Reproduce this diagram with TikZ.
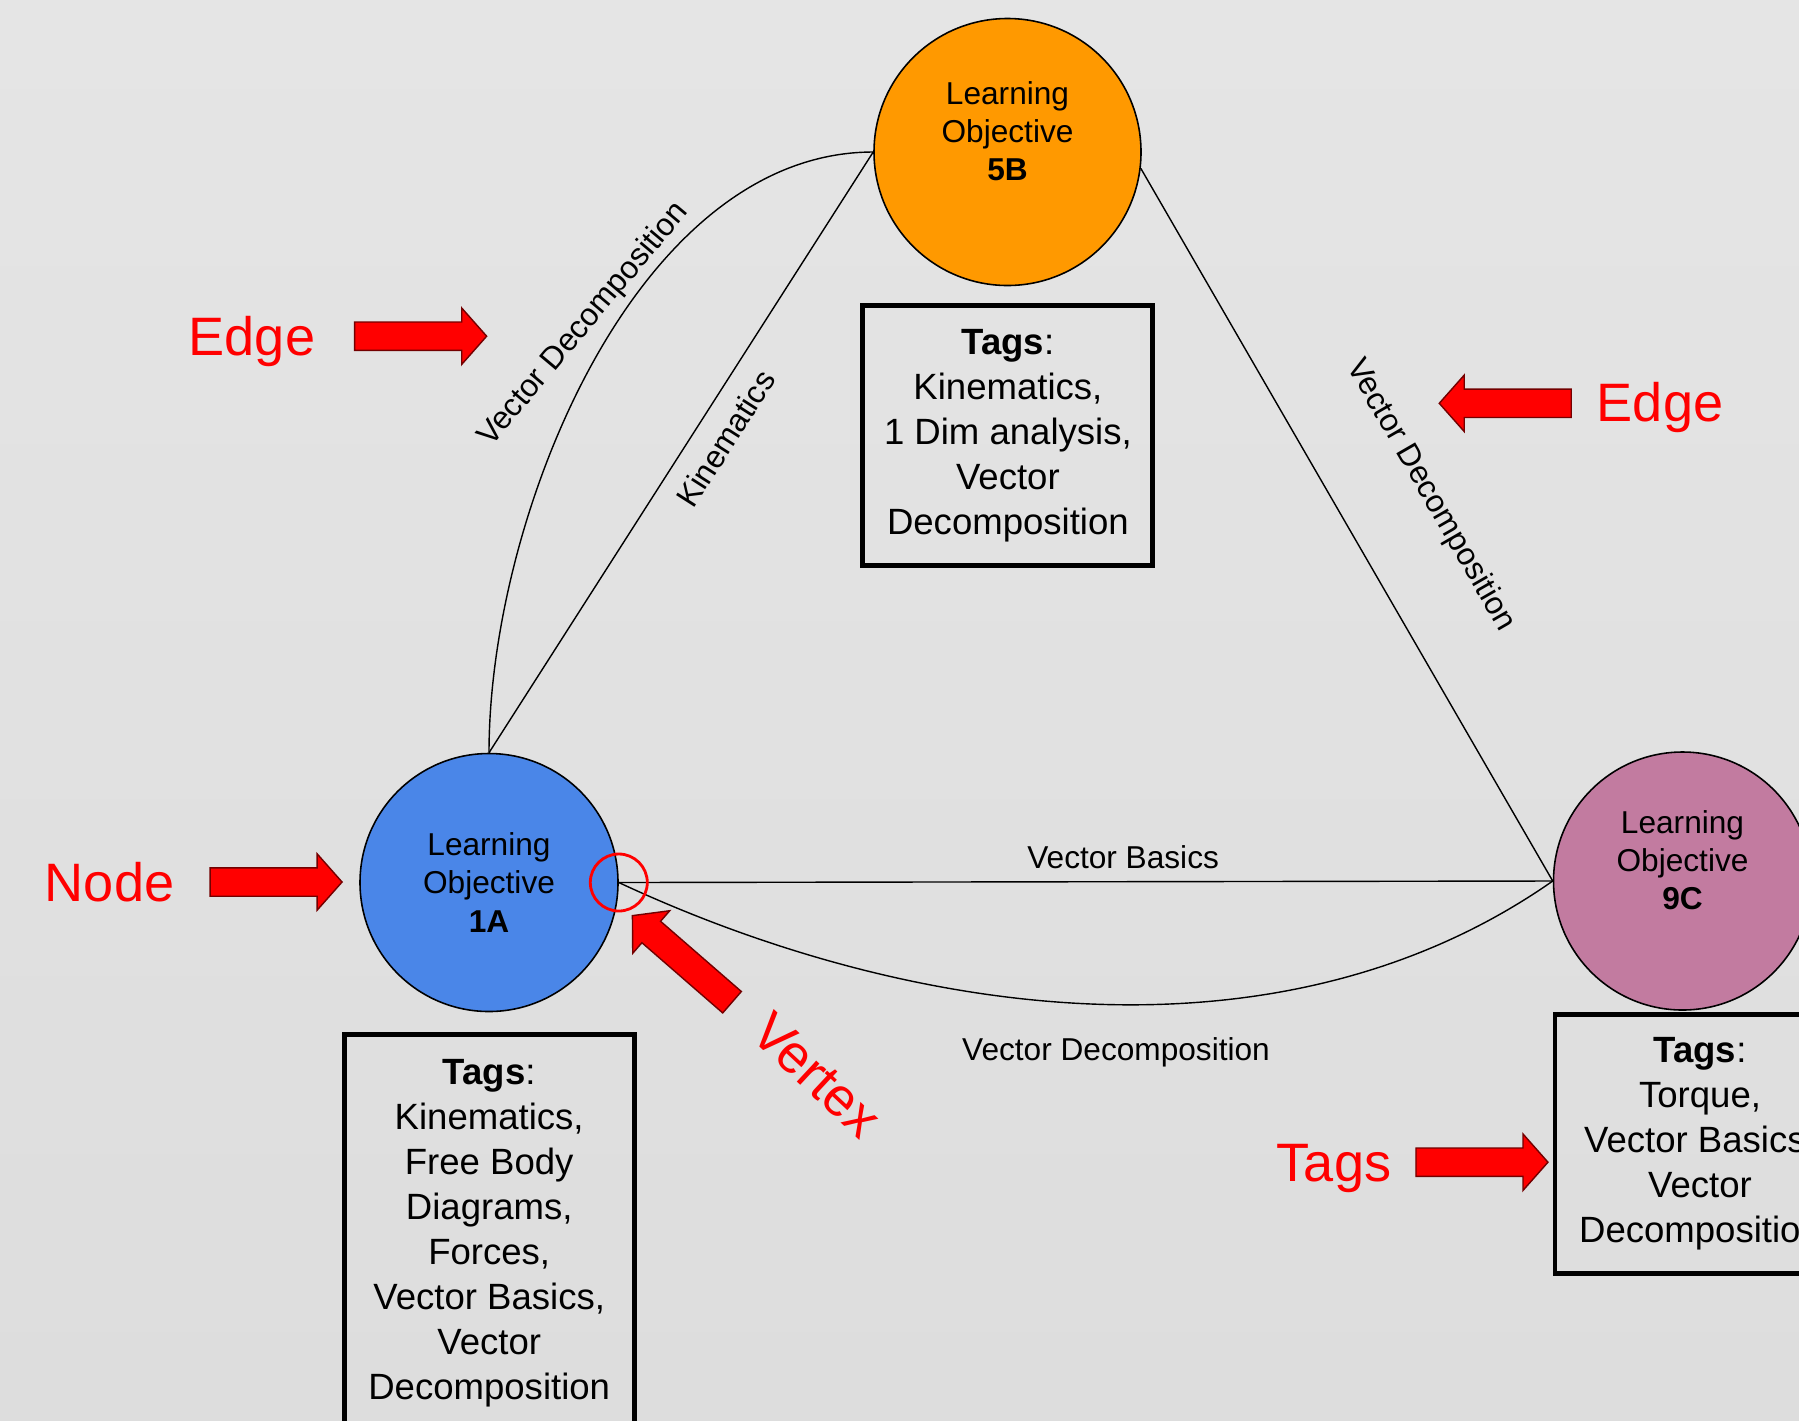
\documentclass[tikz,border=0pt]{standalone}
\usepackage{fontspec}
\setmainfont{Liberation Sans}
\usetikzlibrary{shapes.arrows}
\definecolor{bgtop}{RGB}{229,229,229}
\definecolor{bgbottom}{RGB}{221,221,221}
\definecolor{blueobj}{RGB}{74,134,232}
\definecolor{orangeobj}{RGB}{255,153,0}
\definecolor{pinkobj}{RGB}{194,123,160}
\begin{document}
\begin{tikzpicture}[
    obj/.style={circle, draw=black, line width=0.45pt, minimum size=2.58cm, inner sep=0pt},
    objtext/.style={align=center, font=\fontsize{9}{10.9}\selectfont},
    tagbox/.style={draw=black, line width=1.4pt, align=center, minimum width=2.9cm, font=\fontsize{10.4}{12.8}\selectfont},
    link/.style={draw=black, line width=0.4pt},
    linklabel/.style={font=\fontsize{9}{10.9}\selectfont},
    redarrow/.style={single arrow, draw=red!45!black, line width=0.4pt, fill=red, inner sep=0pt, inner ysep=0.135cm, minimum height=1.32cm, single arrow head extend=0.14cm, single arrow tip angle=97, anchor=tip},
    redlabel/.style={text=red, font=\fontsize{15.4}{18}\selectfont, anchor=base}]
    \useasboundingbox (0,0) rectangle (17.99,-14.2);
    \shade[top color=bgtop, bottom color=bgbottom] (0,0) rectangle (17.99,-14.2);
    \node[obj, fill=blueobj] (lo1a) at (4.89,-8.825) {};
    \node[obj, fill=orangeobj, minimum size=2.67cm] (lo5b) at (10.075,-1.52) {};
    \node[obj, fill=pinkobj] (lo9c) at (16.825,-8.81) {};
    \node[objtext] (lo1atext) at (lo1a.center) {Learning\\Objective\\\textbf{1A}};
    \node[objtext] (lo5btext) at ([yshift=2.1mm]lo5b.center) {Learning\\Objective\\\textbf{5B}};
    \node[objtext] (lo9ctext) at ([yshift=2.1mm]lo9c.center) {Learning\\Objective\\\textbf{9C}};
    \draw[link] (lo1a.north) -- node[linklabel, sloped, below=0.6mm, pos=0.55] {Kinematics} (lo5b.west);
    \draw[link] (lo1a.north) to[out=90, in=180, looseness=0.85] node[linklabel, rotate=50, above, pos=0.53] {Vector Decomposition} (lo5b.west);
    \draw[link] (lo5b.-7) -- node[linklabel, sloped, above=6mm, pos=0.52] {Vector Decomposition} (lo9c.west);
    \draw[link] (lo1a.east) -- node[linklabel, above, pos=0.54] {Vector Basics} (lo9c.west);
    \draw[link] (lo1a.east) to[out=-25, in=-145, looseness=0.9] node[linklabel, below=2mm, pos=0.52] {Vector Decomposition} (lo9c.west);
    \node[tagbox, minimum height=2.6cm] (tags5b) at (10.079,-4.354) {\textbf{Tags}:\\Kinematics,\\1 Dim analysis,\\Vector\\Decomposition};
    \node[tagbox, minimum height=3.98cm] (tags1a) at (4.892,-12.332) {\textbf{Tags}:\\Kinematics,\\Free Body\\Diagrams,\\Forces,\\Vector Basics,\\Vector\\Decomposition};
    \node[tagbox, minimum height=2.59cm] (tags9c) at (17.0,-11.436) {\textbf{Tags}:\\Torque,\\Vector Basics,\\Vector\\Decomposition};
    \node[circle, draw=red, line width=0.8pt, minimum size=0.57cm, inner sep=0pt] (vertexring) at (lo1a.east) {};
    \node[redarrow] (edgearrowa) at (4.876,-3.362) {};
    \node[redarrow, rotate=180] (edgearrowb) at (14.383,-4.033) {};
    \node[redarrow] (nodearrow) at (3.43,-8.82) {};
    \node[redarrow] (tagsarrow) at (15.489,-11.622) {};
    \node[redarrow, rotate=139] (vertexarrow) at (6.317,-9.15) {};
    \node[redlabel] (edgetexta) at (2.52,-3.556) {Edge};
    \node[redlabel] (edgetextb) at (16.60,-4.21) {Edge};
    \node[redlabel] (nodetext) at (1.096,-9.015) {Node};
    \node[redlabel] (tagstext) at (13.34,-11.81) {Tags};
    \node[redlabel, anchor=center, rotate=-43] (vertextext) at (8.17,-10.75) {Vertex};
\end{tikzpicture}
\end{document}
